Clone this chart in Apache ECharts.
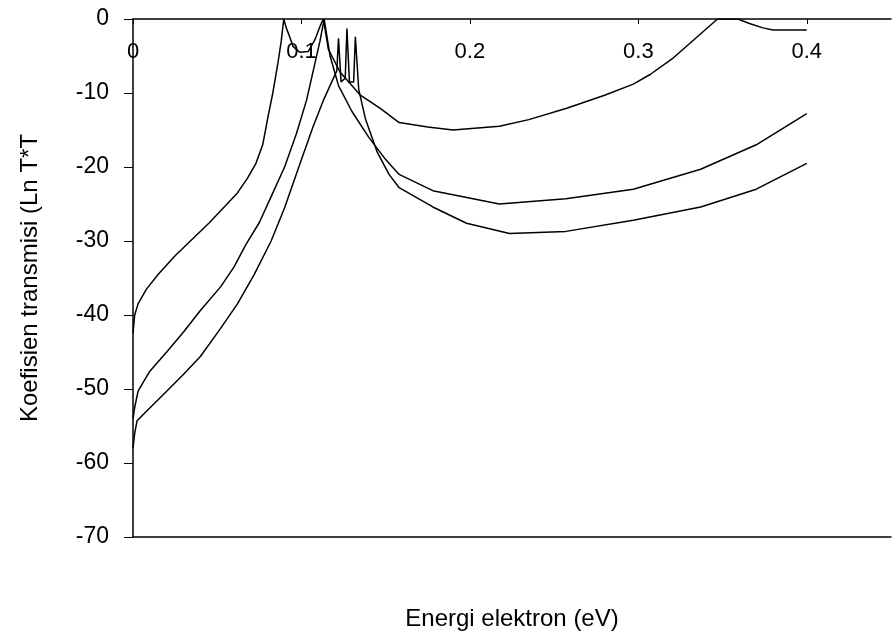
<!DOCTYPE html>
<html>
<head>
<meta charset="utf-8">
<script src="https://cdn.jsdelivr.net/npm/echarts@6/dist/echarts.min.js"></script>
<style>
html,body{margin:0;padding:0;background:#fff;}
#chart{width:892px;height:636px;}
</style>
</head>
<body>
<div id="chart"></div>
<script>
// Energy (eV) and ln(T*T) values for three curves
const curveA_E = [0, 0.001, 0.003, 0.008, 0.015, 0.025, 0.035, 0.045, 0.055, 0.062, 0.068, 0.073, 0.077, 0.080, 0.083, 0.086, 0.088, 0.0895, 0.091, 0.093, 0.095, 0.099, 0.104, 0.108, 0.111, 0.113, 0.116, 0.123, 0.135, 0.147, 0.158, 0.175, 0.19, 0.2175, 0.235, 0.257, 0.28, 0.297, 0.307, 0.32, 0.332, 0.347, 0.359, 0.366, 0.374, 0.380, 0.4];
const curveA_T = [-42.5, -40, -38.5, -36.5, -34.5, -32, -29.8, -27.6, -25.2, -23.5, -21.5, -19.5, -17, -13.4, -10, -6, -3, 0, -1.2, -2.4, -3.7, -4.5, -4.4, -2.8, -1.0, 0, -4.1, -7.2, -10.3, -12.1, -14.0, -14.6, -15.0, -14.5, -13.6, -12.1, -10.3, -8.8, -7.5, -5.4, -3.0, 0, 0, -0.6, -1.2, -1.5, -1.5];

const curveB_E = [0, 0.001, 0.003, 0.01, 0.02, 0.03, 0.04, 0.052, 0.06, 0.067, 0.075, 0.082, 0.09, 0.097, 0.103, 0.108, 0.111, 0.1135, 0.117, 0.122, 0.13, 0.14, 0.15, 0.158, 0.178, 0.2175, 0.257, 0.297, 0.337, 0.37, 0.4];
const curveB_T = [-54, -52.5, -50.3, -47.6, -45.0, -42.3, -39.4, -36.2, -33.5, -30.5, -27.5, -24, -20, -15.5, -11, -6, -3, 0, -5.0, -9.0, -12.5, -16.0, -19.0, -21.0, -23.2, -25.0, -24.3, -23.0, -20.3, -17.0, -12.8];

const curveC_E = [0, 0.001, 0.0024, 0.008, 0.02, 0.03, 0.04, 0.052, 0.062, 0.072, 0.082, 0.09, 0.1, 0.107, 0.113, 0.118, 0.121, 0.122, 0.1235, 0.126, 0.127, 0.1285, 0.131, 0.132, 0.134, 0.138, 0.145, 0.152, 0.158, 0.178, 0.198, 0.2235, 0.257, 0.297, 0.337, 0.37, 0.4];
const curveC_T = [-58, -56, -54.3, -53.0, -50.3, -48.0, -45.6, -41.8, -38.5, -34.5, -30, -25.5, -19, -14.5, -11, -8.5, -7, -2.6, -8.5, -8, -1.3, -8.5, -8.5, -2.4, -9.5, -13.5, -18.0, -21, -22.8, -25.4, -27.6, -29.0, -28.7, -27.2, -25.4, -23.0, -19.5];

const xTicks = [0, 0.1, 0.2, 0.3, 0.4];
const yMin = -70, yMax = 0, yStep = 10;

function pairs(e, t) { return e.map((v, i) => [v, t[i]]); }

const chart = echarts.init(document.getElementById('chart'), null, {renderer: 'canvas'});
const FONT = '"Liberation Sans", Arial, sans-serif';
const lineStyle = {color: '#000', width: 1.5};

chart.setOption({
  animation: false,
  backgroundColor: '#fff',
  grid: {left: 133, top: 19, width: 758, height: 526, containLabel: false},
  xAxis: [{
    type: 'value', position: 'top', min: 0, max: 0.45, interval: 0.1,
    axisLine: {show: true, onZero: false, lineStyle: {color: '#000', width: 1.5}},
    axisTick: {show: true, inside: true, length: 5, lineStyle: {color: '#000'}},
    axisLabel: {inside: true, margin: 22, color: '#000', fontSize: 22, fontFamily: FONT,
      showMaxLabel: false,
      formatter: v => (xTicks.some(t => Math.abs(t - v) < 1e-9) ? (v === 0 ? '0' : v.toFixed(1)) : '')},
    splitLine: {show: false}
  }, {
    type: 'value', position: 'bottom', min: 0, max: 0.45,
    axisLine: {show: true, onZero: false, lineStyle: {color: '#000', width: 1.5}},
    axisTick: {show: false}, axisLabel: {show: false}, splitLine: {show: false},
    name: 'Energi elektron (eV)', nameLocation: 'middle', nameGap: 70,
    nameTextStyle: {color: '#000', fontSize: 24, fontFamily: FONT}
  }],
  yAxis: {
    type: 'value', min: yMin, max: yMax, interval: yStep,
    axisLine: {show: true, onZero: false, lineStyle: {color: '#000', width: 1.5}},
    axisTick: {show: true, length: 9, lineStyle: {color: '#000'}},
    axisLabel: {margin: 24, color: '#000', fontSize: 23, fontFamily: FONT},
    splitLine: {show: false},
    name: 'Koefisien transmisi (Ln T*T', nameLocation: 'middle', nameGap: 91, nameRotate: 90,
    nameTextStyle: {color: '#000', fontSize: 24, fontFamily: FONT}
  },
  series: [
    {type: 'line', data: pairs(curveA_E, curveA_T), showSymbol: false, lineStyle, silent: true},
    {type: 'line', data: pairs(curveB_E, curveB_T), showSymbol: false, lineStyle, silent: true},
    {type: 'line', data: pairs(curveC_E, curveC_T), showSymbol: false, lineStyle, silent: true}
  ]
});
</script>
</body>
</html>
